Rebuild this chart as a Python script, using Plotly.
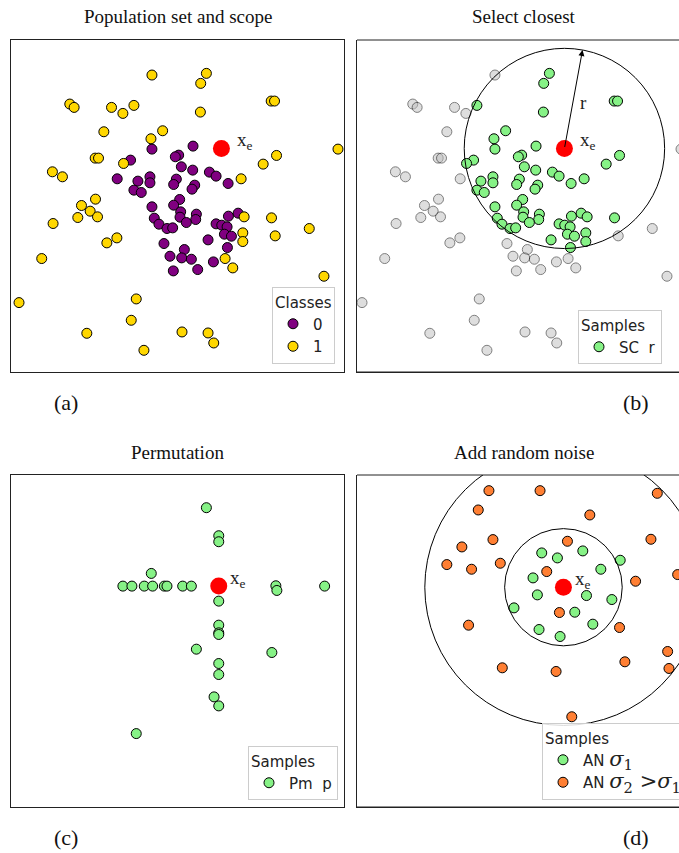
import numpy as np
import plotly.graph_objects as go

W, H = 679, 853

# ---------------- data ----------------
# Population (panels a and b), class 1 (yellow)
class1_x = [422, 585, 568, 176, 189, 301, 335, 368, 567, 779, 789, 278, 454, 419, 252, 262, 337,
            124, 154, 979, 795, 755, 689, 253, 211, 237, 200, 259, 126, 317, 287, 92, 698, 780,
            893, 791, 694, 694, 641, 664, 937, 24, 375, 360, 227, 512, 590, 607, 398]
class1_y = [890, 895, 865, 803, 793, 793, 775, 799, 779, 812, 812, 720, 723, 699, 641, 641, 625,
            600, 585, 668, 649, 623, 579, 518, 499, 482, 463, 465, 445, 402, 387, 340, 465, 462,
            430, 408, 417, 391, 340, 312, 287, 208, 219, 155, 116, 120, 117, 87, 65]
# class 0 (purple)
class0_x = [545, 422, 502, 492, 358, 510, 544, 594, 614, 650, 318, 416, 380, 416, 495, 487, 550,
            542, 368, 390, 505, 487, 422, 508, 555, 506, 429, 553, 443, 467, 484, 525, 651, 680,
            614, 631, 647, 639, 660, 590, 458, 648, 519, 476, 511, 540, 606, 486, 559]
class0_y = [677, 668, 650, 645, 635, 615, 605, 599, 587, 565, 579, 585, 572, 567, 578, 562, 560,
            548, 545, 538, 517, 500, 495, 480, 473, 464, 461, 457, 443, 430, 432, 448, 467, 476,
            444, 440, 435, 413, 407, 396, 385, 373, 367, 347, 342, 338, 330, 303, 307]
xe_ab = [630, 670]
scope_r = 300
arrow_angle_deg = 79.6

# Permutation (panel c)
perm_x = [585, 622, 622, 420, 335, 362, 399, 424, 459, 467, 514, 540, 793, 796, 939, 622, 622,
          622, 622, 555, 781, 622, 622, 608, 622, 375]
perm_y = [897, 813, 795, 700, 662, 662, 662, 662, 662, 662, 662, 662, 663, 649, 662, 617, 545,
          522, 517, 473, 463, 430, 397, 330, 303, 220]
xe_c = [622, 662]

# Random noise (panel d)
noise1_x = [553, 600, 676, 788, 730, 527, 540, 687, 763, 470, 652, 706, 545, 608]
noise1_y = [763, 748, 769, 741, 714, 688, 637, 635, 623, 598, 585, 549, 533, 512]
noise2_x = [395, 548, 899, 363, 697, 407, 630, 880, 314, 269, 343, 429, 568, 960, 834, 606, 786,
            334, 930, 934, 802, 435, 596, 643]
noise2_y = [950, 950, 942, 892, 877, 803, 798, 804, 781, 728, 714, 732, 707, 698, 678, 584, 539,
            546, 467, 416, 436, 418, 407, 271]
xe_d = [618, 660]
sigma1_r = 176
sigma2_r = 415

titles = ["Population set and scope", "Select closest", "Permutation", "Add random noise"]
panel_labels = ["(a)", "(b)", "(c)", "(d)"]

# ---------------- styling ----------------
YELLOW = "#FFD700"
PURPLE = "#800080"
GREEN = "#86F286"
ORANGE = "#FF7F33"
GREY = "#BFBFBF"
SERIF = "Liberation Serif"
SANS = "DejaVu Sans"

def px(xp):
    return xp / W

def py(yp):
    return 1 - yp / H

fig = go.Figure()

mk = dict(size=10, line=dict(color="black", width=1))

# ---- panel a ----
fig.add_trace(go.Scatter(x=class0_x, y=class0_y, mode="markers", name="0",
                         marker=dict(color=PURPLE, **mk), xaxis="x", yaxis="y", legend="legend"))
fig.add_trace(go.Scatter(x=class1_x, y=class1_y, mode="markers", name="1",
                         marker=dict(color=YELLOW, **mk), xaxis="x", yaxis="y", legend="legend"))
fig.add_trace(go.Scatter(x=[xe_ab[0]], y=[xe_ab[1]], mode="markers", showlegend=False,
                         marker=dict(color="red", size=17), xaxis="x", yaxis="y"))

# ---- panel b ----
pop_x = np.array(class0_x + class1_x, dtype=float)
pop_y = np.array(class0_y + class1_y, dtype=float)
dist = np.hypot(pop_x - xe_ab[0], pop_y - xe_ab[1])
inside = dist <= scope_r
fig.add_trace(go.Scatter(x=pop_x[~inside], y=pop_y[~inside], mode="markers", showlegend=False,
                         marker=dict(color=GREY, size=10, opacity=0.5, line=dict(color="black", width=1)),
                         xaxis="x2", yaxis="y2"))
fig.add_trace(go.Scatter(x=pop_x[inside], y=pop_y[inside], mode="markers", name="SC\u00a0 r",
                         marker=dict(color=GREEN, **mk), xaxis="x2", yaxis="y2", legend="legend2"))
fig.add_trace(go.Scatter(x=[xe_ab[0]], y=[xe_ab[1]], mode="markers", showlegend=False,
                         marker=dict(color="red", size=17), xaxis="x2", yaxis="y2"))

# ---- panel c ----
fig.add_trace(go.Scatter(x=perm_x, y=perm_y, mode="markers", name="Pm\u00a0 p",
                         marker=dict(color=GREEN, **mk), xaxis="x3", yaxis="y3", legend="legend3"))
fig.add_trace(go.Scatter(x=[xe_c[0]], y=[xe_c[1]], mode="markers", showlegend=False,
                         marker=dict(color="red", size=17), xaxis="x3", yaxis="y3"))

# ---- panel d ----
sig_span = "<span style=\"font-family:'DejaVu Serif';font-size:21px\">"
fig.add_trace(go.Scatter(x=noise1_x, y=noise1_y, mode="markers",
                         name="AN " + sig_span + "<i>σ</i><sub>1</sub></span>",
                         marker=dict(color=GREEN, **mk), xaxis="x4", yaxis="y4", legend="legend4"))
fig.add_trace(go.Scatter(x=noise2_x, y=noise2_y, mode="markers",
                         name="AN " + sig_span + "<i>σ</i><sub>2</sub> ><i>σ</i><sub>1</sub></span>",
                         marker=dict(color=ORANGE, **mk), xaxis="x4", yaxis="y4", legend="legend4"))
fig.add_trace(go.Scatter(x=[xe_d[0]], y=[xe_d[1]], mode="markers", showlegend=False,
                         marker=dict(color="red", size=17), xaxis="x4", yaxis="y4"))

# ---------------- axes ----------------
dom_x_left = [px(11), px(344)]
dom_x_right = [px(357), 1.0]
dom_y_top = [py(372), py(40)]
dom_y_bot = [py(807), py(475)]

def ax(domain, rng, anchor, mirror=True):
    return dict(domain=domain, range=rng, anchor=anchor, showticklabels=False, ticks="",
                showgrid=False, zeroline=False, showline=True, linecolor="#222222",
                linewidth=1, mirror=mirror, fixedrange=True)

layout = dict(
    width=W, height=H,
    margin=dict(l=0, r=0, t=0, b=0, autoexpand=False),
    paper_bgcolor="white", plot_bgcolor="white",
    xaxis=ax(dom_x_left, [0, 997], "y"),
    yaxis=ax(dom_y_top, [0, 995], "x"),
    xaxis2=ax(dom_x_right, [9, 973], "y2", mirror=False),
    yaxis2=ax(dom_y_top, [0, 995], "x2", mirror=False),
    xaxis3=ax(dom_x_left, [0, 997], "y3"),
    yaxis3=ax(dom_y_bot, [0, 995], "x3"),
    xaxis4=ax(dom_x_right, [0, 964], "y4", mirror=False),
    yaxis4=ax(dom_y_bot, [0, 997], "x4", mirror=False),
)

leg_common = dict(bgcolor="rgba(255,255,255,0.85)", bordercolor="#cccccc", borderwidth=1,
                  font=dict(family=SANS, size=15, color="#222222"), xref="paper", yref="paper",
                  itemclick=False, itemdoubleclick=False, itemwidth=30)
layout["legend"] = dict(x=px(335), y=py(364), xanchor="right", yanchor="bottom",
                        title=dict(text="Classes", font=dict(family=SANS, size=15)), **leg_common)
layout["legend2"] = dict(x=px(578), y=py(364), xanchor="left", yanchor="bottom",
                         entrywidth=120, entrywidthmode="pixels",
                         title=dict(text="Samples", font=dict(family=SANS, size=15)), **leg_common)
layout["legend3"] = dict(x=px(338), y=py(800), xanchor="right", yanchor="bottom",
                         title=dict(text="Samples", font=dict(family=SANS, size=15)), **leg_common)
layout["legend4"] = dict(x=px(542), y=py(800), xanchor="left", yanchor="bottom",
                         title=dict(text="Samples", font=dict(family=SANS, size=15)), **leg_common)
fig.update_layout(**layout)

# panel borders for the cut panels (top and bottom edges)
for xr, yr in [("x2", "y2"), ("x4", "y4")]:
    for yy in [0, 1]:
        fig.add_shape(type="line", xref=xr + " domain", yref=yr + " domain", x0=0, x1=1, y0=yy, y1=yy,
                      line=dict(color="#222222", width=1), layer="above")

# ---------------- circles ----------------
circ = dict(type="circle", line=dict(color="black", width=1), fillcolor="rgba(0,0,0,0)", layer="above")
fig.add_shape(xref="x2", yref="y2", x0=xe_ab[0] - scope_r, x1=xe_ab[0] + scope_r,
              y0=xe_ab[1] - scope_r, y1=xe_ab[1] + scope_r, **circ)
fig.add_shape(xref="x4", yref="y4", x0=xe_d[0] - sigma1_r, x1=xe_d[0] + sigma1_r,
              y0=xe_d[1] - sigma1_r, y1=xe_d[1] + sigma1_r, **circ)
fig.add_shape(xref="x4", yref="y4", x0=xe_d[0] - sigma2_r, x1=xe_d[0] + sigma2_r,
              y0=xe_d[1] - sigma2_r, y1=xe_d[1] + sigma2_r, **circ)

# arrow for r
ang = np.deg2rad(arrow_angle_deg)
tip_x = xe_ab[0] + scope_r * np.cos(ang)
tip_y = xe_ab[1] + scope_r * np.sin(ang)
fig.add_annotation(x=tip_x, y=tip_y, ax=xe_ab[0], ay=xe_ab[1], xref="x2", yref="y2",
                   axref="x2", ayref="y2", showarrow=True, arrowhead=2, arrowsize=1.2,
                   arrowwidth=1, arrowcolor="black", text="")
fig.add_annotation(x=xe_ab[0] + 0.5 * scope_r * np.cos(ang) + 30, y=xe_ab[1] + 0.47 * scope_r * np.sin(ang),
                   xref="x2", yref="y2", text="r", showarrow=False,
                   font=dict(family=SERIF, size=19, color="#222222"))

# x_e labels
xe_font = dict(family=SERIF, size=19, color="#222222")
for (xr, yr, pt, dx) in [("x", "y", xe_ab, 42), ("x2", "y2", xe_ab, 42),
                         ("x3", "y3", xe_c, 29), ("x4", "y4", xe_d, 29)]:
    fig.add_annotation(x=pt[0] + dx, y=pt[1] + 22, xref=xr, yref=yr, text="x<sub>e</sub>",
                       showarrow=False, xanchor="left", yanchor="middle", font=xe_font)

# titles and panel labels
title_pos = [(177.5, 17), (523.5, 17), (177.5, 452), (523.5, 452)]
for t, (tx, ty) in zip(titles, title_pos):
    fig.add_annotation(x=px(tx), y=py(ty), xref="paper", yref="paper", text=t, showarrow=False,
                       xanchor="center", yanchor="middle",
                       font=dict(family=SERIF, size=19, color="#111111"))
label_pos = [(66, 403), (636, 403), (66, 837), (636, 837)]
for t, (lx, ly) in zip(panel_labels, label_pos):
    fig.add_annotation(x=px(lx), y=py(ly), xref="paper", yref="paper", text=t, showarrow=False,
                       xanchor="center", yanchor="middle",
                       font=dict(family=SERIF, size=22, color="#111111"))

page_css = ("document.documentElement.style.overflow='hidden';"
            "document.body.style.overflow='hidden';"
            "document.body.style.margin='0px';")
fig.write_html("out.html", config=dict(displayModeBar=False), post_script=page_css)
